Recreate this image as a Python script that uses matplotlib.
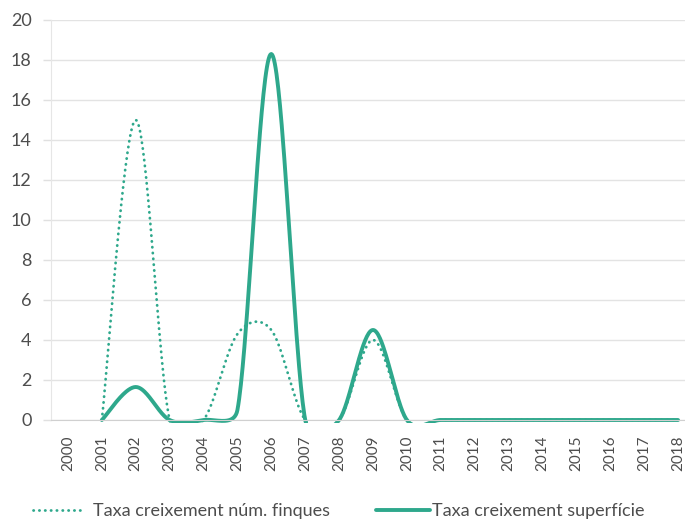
import numpy as np
import matplotlib
matplotlib.use("Agg")
import matplotlib.pyplot as plt
from matplotlib.transforms import Bbox, TransformedBbox

years = [str(y) for y in range(2000, 2019)]
# nan = no value (first year has no growth rate)
finques = [np.nan, 0, 15.0, 0, 0, 4.3, 4.5, 0, 0, 4.0, 0, 0, 0, 0, 0, 0, 0, 0, 0]
superficie = [np.nan, 0, 1.65, 0, 0, 0.5, 18.3, 0, 0, 4.5, 0, 0, 0, 0, 0, 0, 0, 0, 0]

TEAL = "#2ea88c"
GREY = "#4d4d4d"

plt.rcParams["font.family"] = ["Lato", "DejaVu Sans"]

fig = plt.figure(figsize=(6.85, 5.27), dpi=100)
ax = fig.add_axes([51 / 685, 107 / 527, 644 / 685, 400 / 527])
ax.set_xlim(-0.5, len(years) - 0.5)
ax.set_ylim(0, 20)


def excel_smooth(ax, xs, ys, n=40):
    # Excel style smoothed line: bezier between points, control arms
    # (p2 - p0)/6 capped at half the segment length, done in pixel space
    pts = ax.transData.transform(np.column_stack([xs, ys]))
    out = []
    for i in range(len(pts) - 1):
        p1, p2 = pts[i], pts[i + 1]
        p0 = pts[i - 1] if i > 0 else p1
        p3 = pts[i + 2] if i + 2 < len(pts) else p2
        half = np.hypot(*(p2 - p1)) / 2
        a = (p2 - p0) / 6
        b = (p3 - p1) / 6
        la, lb = np.hypot(*a), np.hypot(*b)
        if la > half:
            a = a * half / la
        if lb > half:
            b = b * half / lb
        c1, c2 = p1 + a, p2 - b
        t = np.linspace(0, 1, n)[:, None]
        seg = ((1 - t) ** 3) * p1 + 3 * ((1 - t) ** 2) * t * c1 + 3 * (1 - t) * t ** 2 * c2 + t ** 3 * p2
        out.append(seg if i == 0 else seg[1:])
    out = np.vstack(out)
    return ax.transData.inverted().transform(out)


def draw(values, **kw):
    x = np.arange(len(values))
    y = np.array(values, dtype=float)
    ok = ~np.isnan(y)
    curve = excel_smooth(ax, x[ok], y[ok])
    line, = ax.plot(curve[:, 0], curve[:, 1], color=TEAL, **kw)
    # clip like the excel plot area (a few px below the axis)
    line.set_clip_box(TransformedBbox(Bbox([[0, -0.008], [1, 1]]), ax.transAxes))
    return line


l2 = draw(superficie, lw=2.8, solid_capstyle="round")
l1 = draw(finques, lw=2.0, linestyle=(0, (0.1, 2.0)), dash_capstyle="round")

ax.set_yticks(range(0, 21, 2))
ax.set_xticks(range(len(years)))
ax.set_xticklabels(years, rotation=90)
ax.tick_params(axis="y", length=6, width=1, color="#e0e0e0", pad=8, labelsize=13, labelcolor=GREY)
ax.tick_params(axis="x", length=0, pad=11, labelsize=11, labelcolor=GREY)
ax.grid(axis="y", color="#e3e3e3", lw=1)
for s in ["top", "right"]:
    ax.spines[s].set_visible(False)
ax.spines["left"].set_color("#e6e6e6")
ax.spines["bottom"].set_color("#d0d0d0")
ax.set_axisbelow(True)

leg1 = fig.legend([l1], ["Taxa creixement núm. finques"], loc="center left",
                  bbox_to_anchor=(33 / 685, 16 / 527), frameon=False,
                  handlelength=2.7, handletextpad=0.6, borderpad=0, borderaxespad=0,
                  fontsize=13, labelcolor=GREY)
leg2 = fig.legend([l2], ["Taxa creixement superfície"], loc="center left",
                  bbox_to_anchor=(376 / 685, 16 / 527), frameon=False,
                  handlelength=3.0, handletextpad=0.1, borderpad=0, borderaxespad=0,
                  fontsize=13, labelcolor=GREY)

fig.savefig("out.png", dpi=100)
